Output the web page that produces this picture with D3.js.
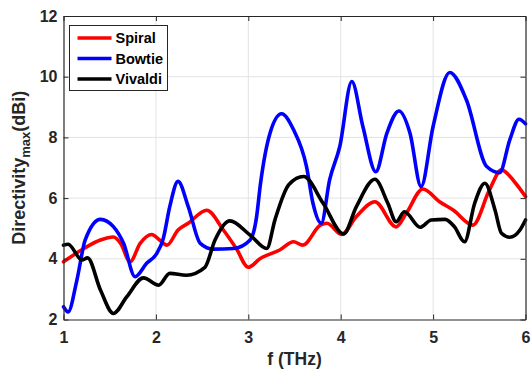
<!DOCTYPE html>
<html>
<head>
<meta charset="utf-8">
<script src="https://cdn.jsdelivr.net/npm/d3@7"></script>
<style>
  body { margin: 0; background: #fff; }
  svg { display: block; font-family: "Liberation Sans", Arial, sans-serif; }
</style>
</head>
<body>
<svg id="chart" width="531" height="369"></svg>
<script>
// values: [f (THz), directivity (dBi)]
const spiral = [
  [1.0, 3.90], [1.22, 4.34], [1.40, 4.62], [1.54, 4.72], [1.62, 4.5], [1.72, 3.90],
  [1.83, 4.51], [1.955, 4.80], [2.04, 4.62], [2.12, 4.45], [2.24, 4.95], [2.35, 5.17],
  [2.55, 5.60], [2.73, 4.95], [2.87, 4.34], [3.0, 3.72], [3.13, 4.01], [3.34, 4.29],
  [3.49, 4.56], [3.59, 4.45], [3.78, 5.11], [3.85, 5.17], [4.01, 4.80], [4.17, 5.39],
  [4.37, 5.88], [4.60, 5.05], [4.71, 5.50], [4.89, 6.30], [5.07, 5.88], [5.22, 5.60],
  [5.43, 5.11], [5.61, 6.27], [5.74, 6.93], [5.88, 6.54], [6.0, 6.05]
]
const bowtie = [
  [1.0, 2.42], [1.05, 2.25], [1.145, 3.30], [1.235, 4.62], [1.40, 5.30], [1.54, 5.06],
  [1.65, 4.51], [1.775, 3.41], [1.90, 3.85], [2.01, 4.18], [2.08, 4.67], [2.15, 5.72],
  [2.24, 6.55], [2.35, 5.72], [2.48, 4.51], [2.62, 4.32], [2.84, 4.34], [3.02, 4.62],
  [3.09, 5.39], [3.13, 6.43], [3.235, 8.14], [3.36, 8.78], [3.49, 8.25], [3.63, 7.04],
  [3.70, 5.83], [3.79, 5.17], [3.88, 6.60], [3.99, 7.70], [4.12, 9.84], [4.24, 8.36],
  [4.38, 6.87], [4.50, 8.14], [4.63, 8.87], [4.75, 8.14], [4.87, 6.38], [5.0, 8.36],
  [5.18, 10.14], [5.36, 9.24], [5.58, 7.04], [5.72, 6.84], [5.83, 7.92], [5.93, 8.60],
  [6.0, 8.45]
]
const vivaldi = [
  [1.0, 4.45], [1.05, 4.48], [1.20, 3.96], [1.26, 4.03], [1.40, 2.97], [1.54, 2.20],
  [1.685, 2.75], [1.865, 3.37], [2.03, 3.13], [2.15, 3.52], [2.33, 3.46], [2.53, 3.72],
  [2.64, 4.62], [2.80, 5.25], [3.02, 4.78], [3.20, 4.34], [3.29, 5.3], [3.44, 6.45],
  [3.60, 6.71], [3.81, 5.83], [4.03, 4.82], [4.17, 5.72], [4.37, 6.62], [4.51, 5.83],
  [4.60, 5.22], [4.69, 5.55], [4.86, 5.04], [4.98, 5.28], [5.13, 5.30], [5.23, 5.06],
  [5.34, 4.56], [5.45, 5.83], [5.56, 6.49], [5.67, 5.61], [5.74, 4.84], [5.83, 4.71],
  [5.94, 4.95], [6.0, 5.28]
]
const seriesNames = ["Spiral", "Bowtie", "Vivaldi"]
const seriesColors = ["#ff0000", "#0000ff", "#000000"]
const xTicks = [1, 2, 3, 4, 5, 6]
const yTicks = [2, 4, 6, 8, 10, 12]

function drawChart(){
  const svg = d3.select("#chart")
  const margin = {top: 16, right: 5.5, bottom: 49.5, left: 63.5}
  const width = 531, height = 369
  const axisColor = "#262626"

  const x = d3.scaleLinear().domain([1, 6]).range([margin.left, width - margin.right])
  const y = d3.scaleLinear().domain([2, 12]).range([height - margin.bottom, margin.top])

  // grid
  svg.append("g")
    .selectAll("line")
    .data(xTicks.slice(1, -1))
    .join("line")
    .attr("x1", d => x(d)).attr("x2", d => x(d))
    .attr("y1", y(2)).attr("y2", y(12))
    .attr("stroke", "#e3e3e3").attr("stroke-width", 1)
  svg.append("g")
    .selectAll("line")
    .data(yTicks.slice(1, -1))
    .join("line")
    .attr("x1", x(1)).attr("x2", x(6))
    .attr("y1", d => y(d)).attr("y2", d => y(d))
    .attr("stroke", "#e3e3e3").attr("stroke-width", 1)

  // data lines
  const line = d3.line()
    .x(d => x(d[0]))
    .y(d => y(d[1]))
    .curve(d3.curveMonotoneX)

  const allSeries = [spiral, bowtie, vivaldi]
  allSeries.forEach((s, i) => {
    svg.append("path")
      .datum(s)
      .attr("fill", "none")
      .attr("stroke", seriesColors[i])
      .attr("stroke-width", 3.6)
      .attr("stroke-linejoin", "round")
      .attr("stroke-linecap", "round")
      .attr("d", line)
  })

  // axes, ticks inward on all four sides
  const fmt = d3.format("d")
  const bottom = svg.append("g")
    .attr("transform", `translate(0,${y(2)})`)
    .call(d3.axisBottom(x).tickValues(xTicks).tickFormat(fmt).tickSize(-5).tickSizeOuter(0).tickPadding(12))
  const left = svg.append("g")
    .attr("transform", `translate(${x(1)},0)`)
    .call(d3.axisLeft(y).tickValues(yTicks).tickFormat(fmt).tickSize(-5).tickSizeOuter(0).tickPadding(6))
  const top = svg.append("g")
    .attr("transform", `translate(0,${y(12)})`)
    .call(d3.axisTop(x).tickValues(xTicks).tickSize(-5).tickSizeOuter(0).tickFormat(""))
  const right = svg.append("g")
    .attr("transform", `translate(${x(6)},0)`)
    .call(d3.axisRight(y).tickValues(yTicks).tickSize(-5).tickSizeOuter(0).tickFormat(""))

  ;[bottom, left, top, right].forEach(g => {
    g.select(".domain").attr("stroke", axisColor).attr("stroke-width", 1.2)
    g.selectAll(".tick line").attr("stroke", axisColor).attr("stroke-width", 1)
    g.selectAll(".tick text")
      .attr("fill", axisColor)
      .attr("font-size", 16)
      .attr("font-weight", "bold")
      .attr("font-family", "Liberation Sans, Arial, sans-serif")
  })

  // axis labels
  svg.append("text")
    .attr("x", (x(1) + x(6)) / 2)
    .attr("y", 365)
    .attr("text-anchor", "middle")
    .attr("fill", axisColor)
    .attr("font-size", 17.5)
    .attr("font-weight", "bold")
    .text("f (THz)")

  const ylab = svg.append("text")
    .attr("transform", `translate(25,${(y(2) + y(12)) / 2}) rotate(-90)`)
    .attr("text-anchor", "middle")
    .attr("fill", axisColor)
    .attr("font-size", 18)
    .attr("font-weight", "bold")
  ylab.append("tspan").text("Directivity")
  ylab.append("tspan").attr("font-size", 13).attr("dy", 5).text("max")
  ylab.append("tspan").attr("dy", -5).text("(dBi)")

  // legend
  const legend = svg.append("g").attr("transform", "translate(69.5,25.5)")
  legend.append("rect")
    .attr("width", 98).attr("height", 65)
    .attr("fill", "#fff")
    .attr("stroke", axisColor).attr("stroke-width", 1)
  seriesNames.forEach((name, i) => {
    const row = legend.append("g").attr("transform", `translate(0,${12.5 + i * 20.5})`)
    row.append("line")
      .attr("x1", 8).attr("x2", 42)
      .attr("stroke", seriesColors[i]).attr("stroke-width", 3.6)
    row.append("text")
      .attr("x", 46).attr("y", 5)
      .attr("fill", "#000")
      .attr("font-size", 14.5)
      .attr("font-weight", "bold")
      .text(name)
  })
}

drawChart()
</script>
</body>
</html>
